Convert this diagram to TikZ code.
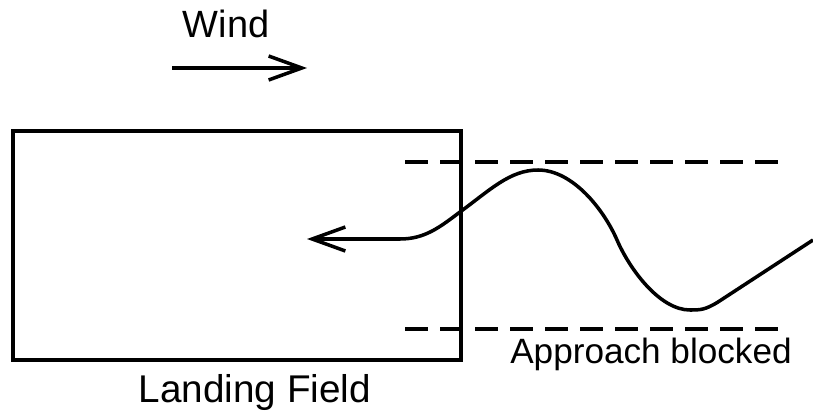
\documentclass[tikz,border=0pt]{standalone}
\usepackage{fontspec}
\setmainfont{Liberation Sans}
\usepackage{tikz}
\usetikzlibrary{arrows.meta}

\begin{document}
\begin{tikzpicture}[x=0.025cm,y=-0.025cm,line width=2.5pt,
barb/.style={-{Straight Barb[length=8.3mm,width=6mm]}},
corridor/.style={dash pattern=on 0.575cm off 0.3cm},
lbl/.style={anchor=base,inner sep=0pt}]
\useasboundingbox (0,0) rectangle (813,412);
% wind direction
\node[lbl,font=\fontsize{27}{30}\selectfont] (wind) at (226,38) {Wind};
\coordinate (windtail) at (172,68);
\coordinate (windhead) at (307,68);
\draw[barb] (windtail) -- (windhead);
% field and approach corridor
\draw (13,131) rectangle (461,360);
\node[lbl,font=\fontsize{27.5}{32}\selectfont] (field) at (255,402) {Landing Field};
\draw[corridor] (405,162) -- (778,162);
\draw[corridor] (405,329) -- (778,329);
\node[lbl,font=\fontsize{25}{28}\selectfont] (blocked) at (651,363) {Approach blocked};
% flight path
\coordinate (entry) at (813,240);
\coordinate (touchdown) at (307,239);
\draw[barb] (entry) -- (718,302) .. controls (705,310) and (700,310) .. (690,310)
  .. controls (660,310) and (630,270) .. (617,240)
  .. controls (604,210) and (573,170) .. (538,170)
  .. controls (510,170) and (490,190) .. (460,212)
  .. controls (440,227) and (425,239) .. (400,239) -- (touchdown);
\end{tikzpicture}
\end{document}
